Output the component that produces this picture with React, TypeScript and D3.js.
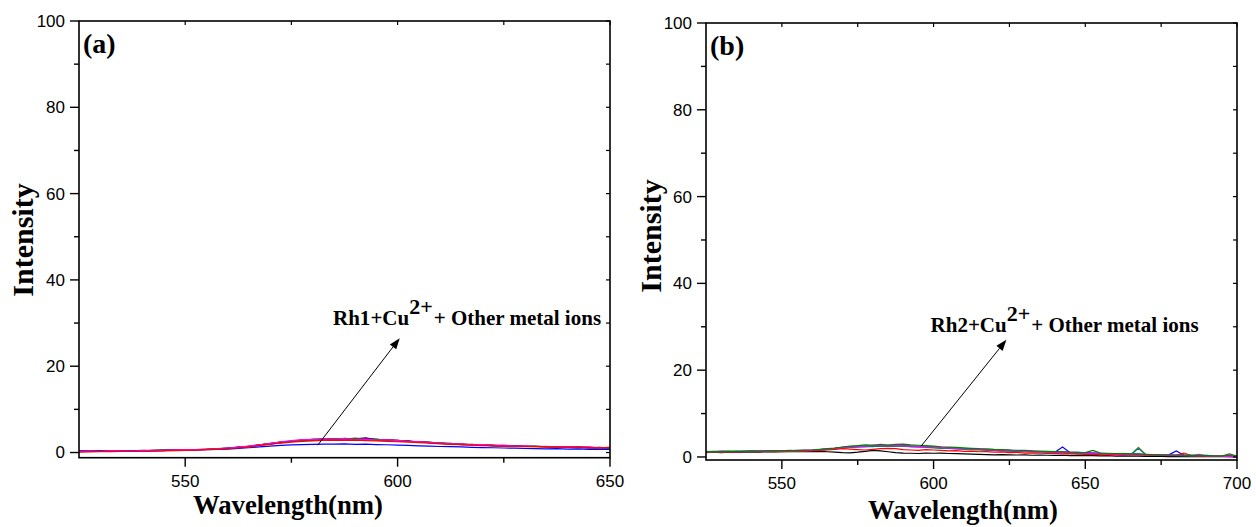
import React from "react";
import * as d3 from "d3";

// ---------- DATA ----------
// Panel (a): wavelengths 525..650 nm, step 2.5 nm
const startA = 525;
const stepA = 2.5;
const blackA = [0.2,0.3,0.25,0.4,0.3,0.45,0.35,0.5,0.45,0.6,0.55,0.7,0.7,0.9,0.95,1.25,1.4,1.8,2.0,2.4,2.55,2.9,2.85,3.2,3.0,3.3,3.1,3.4,2.95,3.0,2.7,2.7,2.4,2.4,2.1,2.1,1.85,1.9,1.65,1.7,1.5,1.6,1.4,1.5,1.3,1.4,1.2,1.3,1.1,1.2,1.0];
const navyA = [0.35,0.3,0.35,0.4,0.35,0.45,0.4,0.45,0.55,0.5,0.6,0.7,0.7,0.85,0.95,1.2,1.4,1.75,2.0,2.3,2.6,2.75,3.0,3.05,3.2,3.15,3.3,3.2,3.05,2.9,2.8,2.6,2.5,2.3,2.2,2.0,1.95,1.8,1.75,1.6,1.6,1.5,1.45,1.4,1.4,1.3,1.25,1.2,1.2,1.1,1.05];
const oliveA = [0.25,0.3,0.3,0.35,0.3,0.4,0.45,0.4,0.5,0.55,0.6,0.6,0.75,0.8,1.0,1.15,1.4,1.7,2.0,2.3,2.55,2.75,2.9,3.0,3.05,3.1,3.1,3.0,2.95,2.85,2.7,2.55,2.4,2.3,2.1,1.95,1.85,1.75,1.7,1.55,1.5,1.45,1.4,1.35,1.3,1.25,1.2,1.15,1.1,1.05,1.0];
const purpleA = [0.3,0.3,0.3,0.35,0.4,0.4,0.45,0.45,0.5,0.55,0.6,0.65,0.75,0.85,1.0,1.2,1.45,1.75,2.05,2.4,2.65,2.85,3.0,3.1,3.15,3.2,3.15,3.1,3.0,2.9,2.75,2.6,2.45,2.3,2.15,2.0,1.9,1.8,1.7,1.6,1.55,1.5,1.45,1.4,1.35,1.3,1.25,1.2,1.15,1.1,1.05];
const greenA = [0.3,0.25,0.35,0.3,0.4,0.4,0.4,0.5,0.55,0.5,0.65,0.7,0.75,0.9,1.0,1.2,1.45,1.7,2.1,2.35,2.6,2.8,3.1,3.0,3.25,3.1,3.3,3.05,3.1,2.85,2.8,2.55,2.5,2.3,2.2,2.05,1.95,1.8,1.8,1.6,1.6,1.5,1.5,1.4,1.35,1.3,1.3,1.2,1.2,1.1,1.1];
const blueA = [0.4,0.35,0.4,0.3,0.45,0.4,0.5,0.45,0.5,0.5,0.55,0.6,0.65,0.7,0.8,0.95,1.1,1.3,1.5,1.65,1.75,1.85,1.9,1.95,1.95,2.0,1.9,1.95,1.85,1.8,1.7,1.65,1.55,1.5,1.4,1.35,1.3,1.2,1.15,1.1,1.05,1.0,0.95,0.9,0.85,0.9,0.8,0.85,0.75,0.8,0.7];
const magentaA = [0.3,0.35,0.3,0.4,0.4,0.35,0.45,0.5,0.5,0.6,0.65,0.7,0.8,0.85,1.05,1.25,1.5,1.8,2.1,2.5,2.75,3.0,3.05,3.2,3.1,3.2,3.0,3.1,2.9,2.95,2.8,2.6,2.55,2.3,2.2,2.0,2.0,1.8,1.85,1.65,1.7,1.5,1.55,1.4,1.45,1.3,1.35,1.25,1.3,1.1,1.2];
const redA = [0.1,0.15,0.2,0.2,0.25,0.3,0.3,0.35,0.4,0.45,0.5,0.55,0.65,0.75,0.9,1.05,1.3,1.6,1.9,2.2,2.4,2.6,2.7,2.8,2.85,2.8,2.85,2.75,2.7,2.6,2.5,2.4,2.3,2.15,2.0,1.9,1.8,1.7,1.6,1.55,1.5,1.45,1.4,1.35,1.3,1.3,1.25,1.2,1.15,1.1,1.2];

// Panel (b): wavelengths 525..700 nm, step 2.5 nm
const startB = 525;
const stepB = 2.5;
const blackB = [1.0,1.1,1.0,1.1,1.05,1.1,1.15,1.1,1.2,1.15,1.2,1.25,1.2,1.3,1.25,1.3,1.2,1.1,1.0,0.95,1.1,1.3,1.5,1.4,1.2,1.0,0.9,0.85,0.8,0.9,0.85,0.9,0.8,0.75,0.7,0.65,0.6,0.55,0.5,0.55,0.5,0.45,0.5,0.4,0.45,0.4,0.35,0.4,0.3,0.35,0.3,0.3,0.25,0.3,0.2,0.25,0.2,0.2,0.15,0.2,0.15,0.1,0.15,0.1,0.1,0.05,0.1,0.05,0.1,0.05,0.0];
const navyB = [1.2,1.2,1.3,1.25,1.3,1.3,1.35,1.3,1.4,1.35,1.45,1.4,1.5,1.5,1.55,1.7,1.8,2.0,2.2,2.35,2.5,2.55,2.7,2.6,2.7,2.65,2.55,2.5,2.45,2.35,2.25,2.15,2.1,2.0,1.9,1.85,1.75,1.7,1.6,1.55,1.5,1.4,1.35,1.3,1.25,1.2,1.15,1.1,1.05,1.0,0.95,0.9,0.85,0.8,0.75,0.7,0.65,0.6,0.55,0.5,0.45,0.4,0.4,0.35,0.3,0.3,0.25,0.2,0.2,0.15,0.1];
const blueB = [1.2,1.15,1.25,1.2,1.3,1.25,1.3,1.25,1.35,1.3,1.4,1.35,1.4,1.45,1.5,1.6,1.75,1.9,2.1,2.2,2.3,2.4,2.5,2.45,2.55,2.5,2.6,2.4,2.35,2.5,2.2,2.1,2.05,1.95,1.9,1.8,1.75,1.7,1.6,1.5,1.55,1.4,1.35,1.3,1.2,1.25,1.1,2.3,1.0,1.05,0.9,0.85,0.8,0.8,0.7,0.75,0.6,0.65,0.55,0.5,0.45,0.5,1.4,0.4,0.35,0.3,0.35,0.25,0.2,0.3,0.1];
const oliveB = [1.1,1.15,1.2,1.15,1.25,1.2,1.3,1.25,1.3,1.35,1.3,1.4,1.35,1.45,1.5,1.65,1.8,1.95,2.15,2.3,2.4,2.55,2.5,2.6,2.55,2.65,2.5,2.45,2.35,2.3,2.2,2.1,2.0,1.9,1.85,1.75,1.7,1.6,1.55,1.45,1.4,1.35,1.3,1.25,1.2,1.1,1.05,1.0,0.95,0.9,0.85,0.8,0.75,0.7,0.65,0.6,0.55,2.2,0.5,0.45,0.4,0.35,0.35,0.3,0.3,0.25,0.25,0.2,0.2,0.15,0.1];
const cyanB = [1.15,1.2,1.1,1.25,1.2,1.3,1.25,1.3,1.35,1.3,1.4,1.4,1.45,1.5,1.5,1.6,1.75,1.9,2.1,2.25,2.35,2.45,2.4,2.55,2.5,2.6,2.45,2.4,2.3,2.2,2.1,2.05,1.95,1.85,1.8,1.7,1.65,1.55,1.5,1.4,1.35,1.3,1.25,1.2,1.15,1.1,1.0,1.0,0.9,0.85,0.8,0.75,0.7,0.65,0.6,0.55,0.5,2.0,0.45,0.4,0.35,0.35,0.3,0.3,0.25,0.25,0.2,0.2,0.15,0.1,0.1];
const redB = [1.1,1.2,1.15,1.2,1.1,1.25,1.2,1.3,1.2,1.3,1.25,1.3,1.35,1.3,1.4,1.5,1.6,1.75,1.9,1.8,1.7,1.6,1.75,1.9,2.0,1.9,1.7,1.6,1.5,1.7,1.6,1.5,1.4,1.45,1.3,1.35,1.2,1.25,1.1,1.15,1.0,1.05,0.9,0.95,0.85,0.8,0.8,0.7,0.75,0.65,0.6,0.65,0.55,0.5,0.55,0.45,0.5,0.4,0.4,0.45,0.35,0.3,0.35,0.9,0.3,0.25,0.2,0.3,0.15,0.2,0.1];
const magentaB = [1.3,1.25,1.35,1.3,1.2,1.35,1.3,1.4,1.3,1.4,1.35,1.45,1.4,1.5,1.55,1.7,1.85,2.0,2.2,2.3,2.45,2.5,2.65,2.7,2.6,2.75,2.6,2.5,2.4,2.45,2.3,2.2,2.1,2.0,1.95,1.85,1.8,1.7,1.65,1.55,1.5,1.45,1.35,1.3,1.25,1.2,1.1,1.15,1.0,0.95,0.9,0.85,0.8,0.75,0.7,0.65,0.6,0.55,0.5,0.45,0.4,0.45,0.35,0.4,0.3,0.6,0.25,0.3,0.2,0.15,0.2];
const greenB = [1.2,1.3,1.25,1.35,1.3,1.3,1.4,1.35,1.4,1.45,1.4,1.5,1.45,1.55,1.6,1.75,1.9,2.05,2.3,2.5,2.6,2.8,2.7,2.9,2.75,2.9,2.95,2.8,2.7,2.6,2.5,2.35,2.3,2.2,2.1,2.0,1.9,1.85,1.75,1.7,1.6,1.55,1.5,1.4,1.35,1.3,1.25,1.2,1.1,1.05,1.0,1.5,0.9,0.85,0.8,0.75,0.7,0.65,0.6,0.55,0.5,0.45,0.45,0.4,0.35,0.35,0.3,0.25,0.2,0.7,0.2];

const seriesA = [
  { color: "#000000", values: blackA },
  { color: "#000080", values: navyA },
  { color: "#808000", values: oliveA },
  { color: "#800080", values: purpleA },
  { color: "#008000", values: greenA },
  { color: "#0000ff", values: blueA },
  { color: "#ff00ff", values: magentaA },
  { color: "#ff0000", values: redA },
];
const seriesB = [
  { color: "#000000", values: blackB },
  { color: "#000080", values: navyB },
  { color: "#0000ff", values: blueB },
  { color: "#808000", values: oliveB },
  { color: "#008080", values: cyanB },
  { color: "#ff0000", values: redB },
  { color: "#ff00ff", values: magentaB },
  { color: "#008000", values: greenB },
];

const yMajor = [0, 20, 40, 60, 80, 100];
const yMinor = [10, 30, 50, 70, 90];
const xMajorA = [550, 600, 650];
const xMinorA = [575, 625];
const xMajorB = [550, 600, 650, 700];
const xMinorB = [575, 625, 675];

const panels = [
  {
    label: "(a)",
    start: startA, step: stepA, series: seriesA,
    xDomain: [525, 650], xRange: [79, 610],
    yDomain: [-1.2, 100], yRange: [457.7, 21],
    xMajor: xMajorA, xMinor: xMinorA,
    annot: { name: "Rh1", tx: 584.8, ty: 29.5, hx: 600.5, hy: 26.5, sx: 581.2, sy: 1.7 },
    xTitle: { x: 288, y: 514 },
    yTitle: { x: 33, y: 240 },
  },
  {
    label: "(b)",
    start: startB, step: stepB, series: seriesB,
    xDomain: [525, 700], xRange: [706, 1237],
    yDomain: [-0.7, 100], yRange: [460, 23],
    xMajor: xMajorB, xMinor: xMinorB,
    annot: { name: "Rh2", tx: 599, ty: 28.7, hx: 624, hy: 27, sx: 595.9, sy: 2.5 },
    xTitle: { x: 963, y: 519 },
    yTitle: { x: 661, y: 236 },
  },
];

const serif = "'Liberation Serif', 'Times New Roman', serif";
const sans = "'Liberation Sans', Arial, sans-serif";

function Panel({ p, idx }: { p: any; idx: number }) {
  const x = d3.scaleLinear().domain(p.xDomain).range(p.xRange);
  const y = d3.scaleLinear().domain(p.yDomain).range(p.yRange);
  const [x0, x1] = p.xRange;
  const [yb, yt] = p.yRange;
  const line = d3
    .line<number>()
    .x((_, i) => x(p.start + i * p.step))
    .y((d) => y(d));
  const a = p.annot;
  const hx = x(a.hx), hy = y(a.hy), sx = x(a.sx), sy = y(a.sy);
  const ang = Math.atan2(hy - sy, hx - sx);
  const L = 11, W = 4;
  const bx = hx - L * Math.cos(ang), by = hy - L * Math.sin(ang);
  const head = `M${hx},${hy} L${bx + W * Math.sin(ang)},${by - W * Math.cos(ang)} L${bx - W * Math.sin(ang)},${by + W * Math.cos(ang)} Z`;
  const clipId = `clip${idx}`;
  return (
    <g>
      <defs>
        <clipPath id={clipId}>
          <rect x={x0} y={yt} width={x1 - x0} height={yb - yt} />
        </clipPath>
      </defs>
      <g clipPath={`url(#${clipId})`}>
        {p.series.map((s: any, i: number) => (
          <path key={i} d={line(s.values) || ""} fill="none" stroke={s.color} strokeWidth={1.2} />
        ))}
      </g>
      {/* frame */}
      <rect x={x0} y={yt} width={x1 - x0} height={yb - yt} fill="none" stroke="#000" strokeWidth={1.6} />
      {/* y ticks */}
      {yMajor.map((v) => (
        <g key={"ym" + v}>
          <line x1={x0 - 9} x2={x0} y1={y(v)} y2={y(v)} stroke="#000" strokeWidth={1.4} />
          <line x1={x1 - 4} x2={x1} y1={y(v)} y2={y(v)} stroke="#000" strokeWidth={1.2} />
          <text x={x0 - 14} y={y(v)} dy="0.35em" textAnchor="end" fontFamily={sans} fontSize={17}>
            {v}
          </text>
        </g>
      ))}
      {yMinor.map((v) => (
        <g key={"yn" + v}>
          <line x1={x0 - 5} x2={x0} y1={y(v)} y2={y(v)} stroke="#000" strokeWidth={1.4} />
          <line x1={x1 - 4} x2={x1} y1={y(v)} y2={y(v)} stroke="#000" strokeWidth={1.2} />
        </g>
      ))}
      {/* x ticks */}
      {p.xMajor.map((v: number) => (
        <g key={"xm" + v}>
          <line x1={x(v)} x2={x(v)} y1={yb} y2={yb + 9} stroke="#000" strokeWidth={1.4} />
          <line x1={x(v)} x2={x(v)} y1={yt} y2={yt + 4} stroke="#000" strokeWidth={1.2} />
          <text x={x(v)} y={yb + 29} textAnchor="middle" fontFamily={sans} fontSize={17}>
            {v}
          </text>
        </g>
      ))}
      {p.xMinor.map((v: number) => (
        <g key={"xn" + v}>
          <line x1={x(v)} x2={x(v)} y1={yb} y2={yb + 5} stroke="#000" strokeWidth={1.4} />
          <line x1={x(v)} x2={x(v)} y1={yt} y2={yt + 4} stroke="#000" strokeWidth={1.2} />
        </g>
      ))}
      {/* titles */}
      <text x={p.xTitle.x} y={p.xTitle.y} textAnchor="middle" fontFamily={serif} fontWeight="bold" fontSize={28} textLength={190} lengthAdjust="spacingAndGlyphs">
        Wavelength(nm)
      </text>
      <text transform={`translate(${p.yTitle.x},${p.yTitle.y}) rotate(-90)`} textAnchor="middle" fontFamily={serif} fontWeight="bold" fontSize={30}>
        Intensity
      </text>
      <text x={x0 + 4} y={yt + 32} fontFamily={serif} fontWeight="bold" fontSize={28}>
        {p.label}
      </text>
      {/* annotation */}
      <line x1={sx} y1={sy} x2={bx} y2={by} stroke="#000" strokeWidth={1} />
      <path d={head} fill="#000" />
      <text x={x(a.tx)} y={y(a.ty)} fontFamily={serif} fontWeight="bold" fontSize={21}>
        {a.name}+Cu
        <tspan fontSize={22} dy={-11}>2+</tspan>
        <tspan dy={11} dx={1}>+ Other metal ions</tspan>
      </text>
    </g>
  );
}

export default function App() {
  return (
    <svg
      width={1256}
      height={527}
      style={{ position: "absolute", left: 0, top: 0, background: "#fff" }}
    >
      <rect x={0} y={0} width={1256} height={527} fill="#fff" />
      {panels.map((p, i) => (
        <Panel key={i} p={p} idx={i} />
      ))}
    </svg>
  );
}
